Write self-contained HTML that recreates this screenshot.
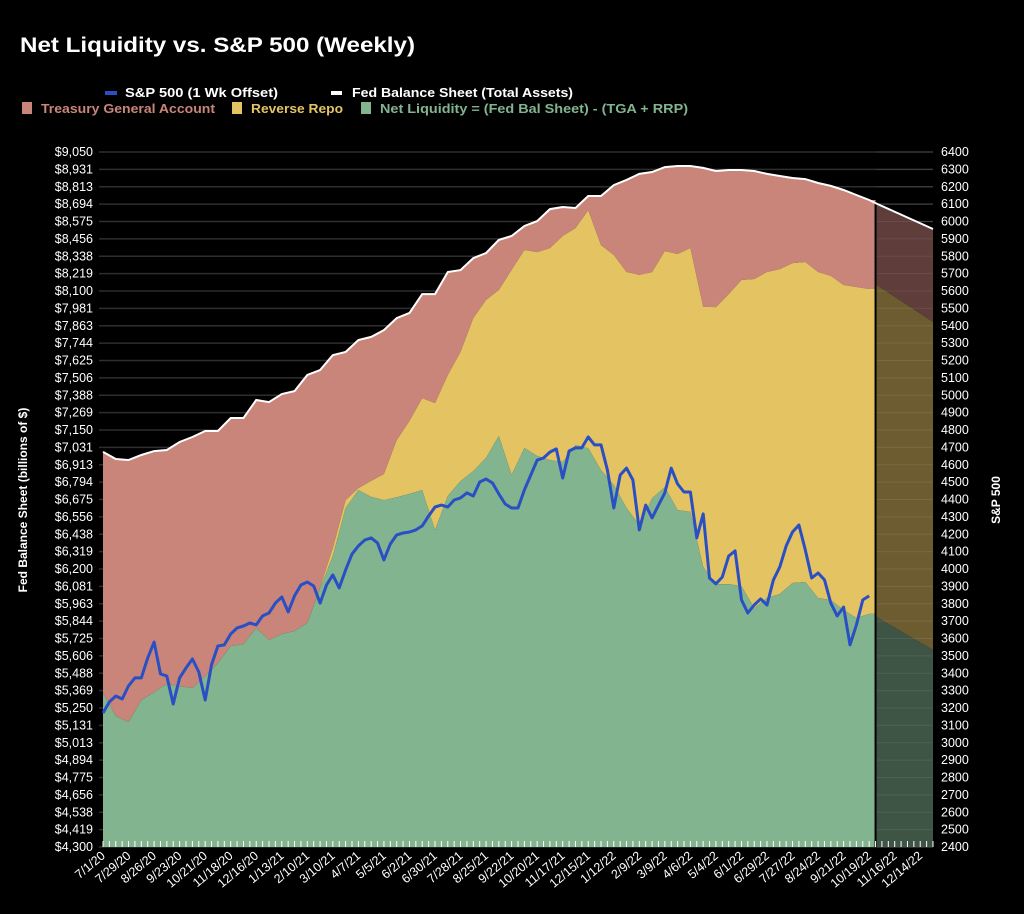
<!DOCTYPE html>
<html><head><meta charset="utf-8"><style>
html,body{margin:0;padding:0;background:#000;}
body{width:1024px;height:909px;overflow:hidden;font-family:"Liberation Sans",sans-serif;}
svg text{font-family:"Liberation Sans",sans-serif;}
</style></head><body>
<svg id="chart" width="1024" height="909" xmlns="http://www.w3.org/2000/svg">
<text x="20" y="52" fill="#fff" font-size="21" font-weight="bold" textLength="395" lengthAdjust="spacingAndGlyphs">Net Liquidity vs. S&amp;P 500 (Weekly)</text>
<g>
<rect x="105" y="91" width="12" height="4" fill="#2a4fc4"/>
<text x="125" y="97" fill="#fff" font-size="13" font-weight="bold" textLength="153" lengthAdjust="spacingAndGlyphs">S&amp;P 500 (1 Wk Offset)</text>
<rect x="331" y="91" width="11" height="4" fill="#fff"/>
<text x="352" y="97" fill="#fff" font-size="13" font-weight="bold" textLength="221" lengthAdjust="spacingAndGlyphs">Fed Balance Sheet (Total Assets)</text>
<rect x="22" y="102" width="10" height="12" fill="#c9857a"/>
<text x="41" y="113" fill="#c9857a" font-size="13" font-weight="bold" textLength="174" lengthAdjust="spacingAndGlyphs">Treasury General Account</text>
<rect x="232" y="102" width="10" height="12" fill="#e4c363"/>
<text x="251" y="113" fill="#e4c363" font-size="13" font-weight="bold" textLength="92" lengthAdjust="spacingAndGlyphs">Reverse Repo</text>
<rect x="361" y="102" width="10" height="12" fill="#82b48f"/>
<text x="380" y="113" fill="#82b48f" font-size="13" font-weight="bold" textLength="308" lengthAdjust="spacingAndGlyphs">Net Liquidity = (Fed Bal Sheet) - (TGA + RRP)</text>
</g>
<g id="grid"></g>
<g id="areas"></g>
<g id="axes"></g>
<text transform="translate(27,500) rotate(-90)" text-anchor="middle" fill="#fff" font-size="12" font-weight="bold">Fed Balance Sheet (billions of $)</text>
<text transform="translate(1000,500) rotate(-90)" text-anchor="middle" fill="#fff" font-size="12" font-weight="bold">S&amp;P 500</text>
</svg>
<script>
// Biweekly balance sheet data (billions $), starting 7/1/20, every 2 weeks
const fedAssets=[7000,6952,6945,6979,7006,7013,7068,7102,7143,7143,7232,7232,7355,7341,7396,7416,7526,7560,7662,7683,7765,7786,7833,7915,7950,8079,8079,8230,8243,8325,8360,8449,8476,8544,8578,8660,8674,8667,8749,8749,8824,8859,8900,8913,8947,8954,8954,8941,8920,8927,8927,8920,8900,8886,8872,8865,8838,8818,8790,8756,8722];
const tgaValues=[1647,1757,1791,1675,1647,1599,1668,1716,1675,1586,1558,1545,1558,1627,1640,1640,1695,1485,1319,1012,1012,984,984,834,738,711,745,704,560,410,321,342,232,164,212,267,198,137,96,335,478,629,690,684,574,601,560,950,930,848,752,738,670,636,581,567,608,615,649,629,608];
const rrpValues=[0,0,0,0,0,0,0,0,0,0,0,0,0,0,0,0,0,5,55,55,14,109,178,390,499,629,868,827,882,1046,1080,998,1401,1353,1394,1449,1545,1483,1627,1538,1572,1613,1709,1545,1613,1750,1804,1777,1893,1982,2092,2249,2228,2221,2187,2187,2228,2215,2221,2262,2221];
// Weekly S&P 500 (1 wk offset)
const sp500=[3171,3235,3269,3252,3327,3373,3373,3488,3580,3396,3384,3223,3373,3430,3482,3407,3246,3448,3557,3563,3626,3661,3672,3689,3678,3730,3747,3804,3839,3753,3845,3908,3925,3902,3804,3908,3966,3891,3994,4086,4133,4167,4179,4150,4052,4144,4196,4207,4213,4225,4248,4305,4357,4368,4357,4397,4409,4438,4420,4501,4518,4495,4432,4374,4351,4351,4455,4541,4627,4639,4673,4691,4524,4679,4697,4697,4760,4714,4714,4570,4351,4541,4581,4512,4225,4368,4294,4368,4438,4581,4489,4443,4443,4179,4317,3948,3914,3954,4075,4104,3822,3747,3793,3828,3793,3937,4012,4133,4213,4253,4110,3948,3977,3937,3804,3730,3781,3563,3678,3822,3845];
// Projection region (start, end)
const projFed=[8701,8524];
const projRrpTop=[8141,7888];
const projNetTop=[5872,5646];
const leftTicks=["$9,050","$8,931","$8,813","$8,694","$8,575","$8,456","$8,338","$8,219","$8,100","$7,981","$7,863","$7,744","$7,625","$7,506","$7,388","$7,269","$7,150","$7,031","$6,913","$6,794","$6,675","$6,556","$6,438","$6,319","$6,200","$6,081","$5,963","$5,844","$5,725","$5,606","$5,488","$5,369","$5,250","$5,131","$5,013","$4,894","$4,775","$4,656","$4,538","$4,419","$4,300"];
const rightTicks=[6400,6300,6200,6100,6000,5900,5800,5700,5600,5500,5400,5300,5200,5100,5000,4900,4800,4700,4600,4500,4400,4300,4200,4100,4000,3900,3800,3700,3600,3500,3400,3300,3200,3100,3000,2900,2800,2700,2600,2500,2400];
const xLabels=["7/1/20","7/29/20","8/26/20","9/23/20","10/21/20","11/18/20","12/16/20","1/13/21","2/10/21","3/10/21","4/7/21","5/5/21","6/2/21","6/30/21","7/28/21","8/25/21","9/22/21","10/20/21","11/17/21","12/15/21","1/12/22","2/9/22","3/9/22","4/6/22","5/4/22","6/1/22","6/29/22","7/27/22","8/24/22","9/21/22","10/19/22","11/16/22","12/14/22"];

const NS="http://www.w3.org/2000/svg";
const X0=103,X1=933,Y0=152,Y1=847,WEEKS=130,BOUNDARY_WEEK=121;
const xw=w=>X0+(X1-X0)*w/WEEKS;
const yL=v=>Y1-(v-4300)/(9050-4300)*(Y1-Y0);
const yR=v=>Y1-(v-2400)/(6400-2400)*(Y1-Y0);
function mk(tag,attrs,parent){const e=document.createElementNS(NS,tag);for(const k in attrs)e.setAttribute(k,attrs[k]);parent.appendChild(e);return e;}
const grid=document.getElementById('grid'),areas=document.getElementById('areas'),axes=document.getElementById('axes');

leftTicks.forEach((t,i)=>{
  const y=Y0+i*(Y1-Y0)/(leftTicks.length-1);
  const g=mk('line',{x1:99,x2:X1,y1:y,y2:y,stroke:'#2e2e2e','stroke-width':1.5},grid);
  
  
  const tx=mk('text',{x:93,y:y+4,'text-anchor':'end',fill:'#fff','font-size':12.5},axes);
  tx.textContent=t;
  
  
});
rightTicks.forEach(v=>{
  const tx=mk('text',{x:941,y:yR(v)+4,fill:'#fff','font-size':12.5},axes);
  tx.textContent=v;
  
  
});

const n=fedAssets.length;
const wk=i=>i*2;
const netVals=fedAssets.map((f,i)=>f-tgaValues[i]-rrpValues[i]);
const rrpTop=netVals.map((v,i)=>v+rrpValues[i]);
const tgaTop=rrpTop.map((v,i)=>v+tgaValues[i]);
const xb=xw(BOUNDARY_WEEK);
function areaPath(top,bottomFn){
  let d='';
  for(let i=0;i<n;i++)d+=(i?'L':'M')+xw(wk(i)).toFixed(1)+','+yL(top[i]).toFixed(1);
  d+='L'+xb.toFixed(1)+','+yL(top[n-1]).toFixed(1);
  if(bottomFn){d+='L'+xb.toFixed(1)+','+yL(bottomFn(n-1)).toFixed(1);for(let i=n-1;i>=0;i--)d+='L'+xw(wk(i)).toFixed(1)+','+yL(bottomFn(i)).toFixed(1);}
  else d+='L'+xb+','+Y1+'L'+X0+','+Y1;
  return d+'Z';
}
const tgaA=mk('path',{d:areaPath(tgaTop,i=>rrpTop[i]),fill:'#c9857a'},areas);


const rrpA=mk('path',{d:areaPath(rrpTop,i=>netVals[i]),fill:'#e4c363'},areas);


const netA=mk('path',{d:areaPath(netVals,null),fill:'#82b48f'},areas);



const px0=xb+1,px1=X1;
const pr=mk('path',{d:`M${px0},${yL(projFed[0])}L${px1},${yL(projFed[1])}L${px1},${yL(projRrpTop[1])}L${px0},${yL(projRrpTop[0])}Z`,fill:'#5e3d3b'},areas);


const py=mk('path',{d:`M${px0},${yL(projRrpTop[0])}L${px1},${yL(projRrpTop[1])}L${px1},${yL(projNetTop[1])}L${px0},${yL(projNetTop[0])}Z`,fill:'#6e5c31'},areas);


const pg=mk('path',{d:`M${px0},${yL(projNetTop[0])}L${px1},${yL(projNetTop[1])}L${px1},${Y1}L${px0},${Y1}Z`,fill:'#3e5444'},areas);


leftTicks.forEach((t,i)=>{
  const y=Y0+i*(Y1-Y0)/(leftTicks.length-1);
  const g=mk('line',{x1:px0,x2:X1,y1:y,y2:y,stroke:'rgba(255,255,255,0.08)','stroke-width':1},areas);
  
  
});
const bl=mk('line',{x1:xb,x2:xb,y1:yL(projFed[0]),y2:Y1,stroke:'#000','stroke-width':2},areas);



let fd='';
for(let i=0;i<n;i++)fd+=(i?'L':'M')+xw(wk(i)).toFixed(1)+','+yL(fedAssets[i]).toFixed(1);
fd+='L'+xb.toFixed(1)+','+yL(projFed[0]).toFixed(1)+'L'+X1+','+yL(projFed[1]).toFixed(1);
const fl=mk('path',{d:fd,fill:'none',stroke:'#fff','stroke-width':2},areas);



let sd='';
sp500.forEach((v,i)=>{sd+=(i?'L':'M')+xw(i).toFixed(1)+','+yR(v).toFixed(1);});
const sl=mk('path',{d:sd,fill:'none',stroke:'#2a4fc4','stroke-width':3,'stroke-linejoin':'round'},areas);



for(let w=0;w<=WEEKS;w++){
  const t=mk('line',{x1:xw(w),x2:xw(w),y1:Y1-6,y2:Y1,stroke:'#fff','stroke-width':1},axes);
  
  
}
xLabels.forEach((l,i)=>{
  const x=xw(i*4)+3,y=Y1+10;
  const t=mk('text',{x:x,y:y,'text-anchor':'end',fill:'#fff','font-size':12.5,transform:`rotate(-40 ${x} ${y})`},axes);
  t.textContent=l;
  
  
});
</script>
</body></html>
